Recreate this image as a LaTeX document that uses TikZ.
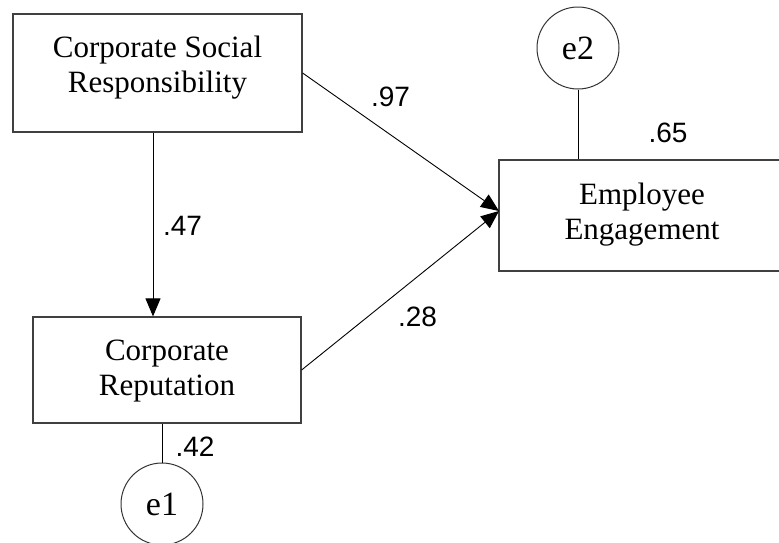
\documentclass[tikz,border=0pt]{standalone}
\usepackage{fontspec}
\setmainfont{Liberation Serif}
\newfontfamily\numfont{Liberation Sans}
\usetikzlibrary{arrows.meta}
\begin{document}
\begin{tikzpicture}[x=1pt,y=-1pt,
  boxnode/.style={draw=black!75,line width=1.2pt,minimum width=#1,inner sep=0pt},
  boxtext/.style={align=center,font=\fontsize{31}{35}\selectfont,inner sep=0pt},
  errnode/.style={circle,draw=black!80,line width=1pt,minimum size=82pt,inner sep=0pt,font=\fontsize{34}{38}\selectfont},
  coef/.style={font=\numfont\fontsize{28}{30}\selectfont,anchor=base,inner sep=0pt},
  path/.style={line width=0.9pt,-{Triangle[length=18pt,width=15pt]}},
  plain/.style={line width=0.9pt}]
\clip (0,0) rectangle (779,542);
\fill[white] (0,0) rectangle (779,542);
% boxes
\node[boxnode=289pt,minimum height=118pt] (csr) at (157.5,73) {};
\node[boxnode=268pt,minimum height=106pt] (cr) at (167,370) {};
\node[boxnode=286pt,minimum height=111pt] (ee) at (642,215.5) {};
\node[boxtext] (csrt) at (157.5,68) {Corporate Social\\Responsibility};
\node[boxtext] (crt) at (167,371) {Corporate\\Reputation};
\node[boxtext] (eet) at (642,215) {Employee\\Engagement};
% error terms
\node[errnode] (e2) at (578,48) {e2};
\node[errnode] (e1) at (162,504) {e1};
% connectors
\coordinate (ax) at (153,0);
\coordinate (tip) at (499,211);
\draw[path] (csr.south -| ax) -- (cr.north -| ax);
\draw[path] (csr.east) -- (tip);
\draw[path] (cr.east) -- (tip);
\draw[plain] (e2.south) -- (ee.north -| e2.south);
\draw[plain] (cr.south -| e1.north) -- (e1.north);
% coefficients
\node[coef] (c97) at (390.5,106) {.97};
\node[coef] (c47) at (182.5,235) {.47};
\node[coef] (c28) at (417.5,326) {.28};
\node[coef] (c65) at (668,142) {.65};
\node[coef] (c42) at (195,456) {.42};
\end{tikzpicture}
\end{document}
